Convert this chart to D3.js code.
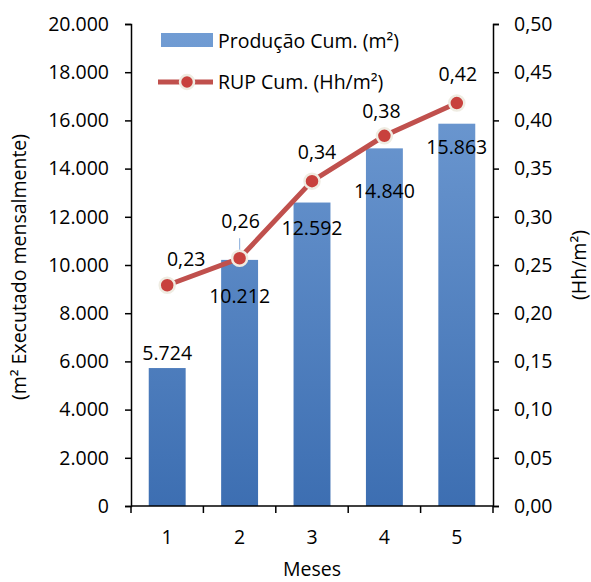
<!DOCTYPE html>
<html>
<head>
<meta charset="utf-8">
<script src="https://cdn.jsdelivr.net/npm/d3@7"></script>
<style>
  body { margin: 0; background: #fff; }
  svg text { font-family: "Open Sans", sans-serif; fill: #000; }
</style>
</head>
<body>
<svg id="chart" width="591" height="582"></svg>
<script>
// chart data
const months = ['1', '2', '3', '4', '5'];
const producao = [5724, 10212, 12592, 14840, 15863];
const rup = [0.229, 0.257, 0.337, 0.384, 0.418];
const leftTicks = [0, 2000, 4000, 6000, 8000, 10000, 12000, 14000, 16000, 18000, 20000];
const rightTicks = [0, 0.05, 0.1, 0.15, 0.2, 0.25, 0.3, 0.35, 0.4, 0.45, 0.5];

// label nudges (px) as placed in the original
const barLabelDy = [-8, 43, 32, 50, 30];
const rupLabelDx = [19, 1, 5, -3, 1];
const rupLabelDy = [-19, -30, -22, -18, -22];

const svg = d3.select('#chart');
const margin = { top: 24, right: 98, bottom: 76, left: 131 };
const width = 591 - margin.left - margin.right;
const height = 582 - margin.top - margin.bottom;
const fs = '19.5px';

const ptBR = v => d3.format(',.0f')(v).replace(/,/g, '.');
const dec2 = v => d3.format('.2f')(v).replace('.', ',');

const defs = svg.append('defs');
const grad = defs.append('linearGradient')
  .attr('id', 'barGrad')
  .attr('gradientUnits', 'userSpaceOnUse')
  .attr('x1', 0).attr('x2', 0)
  .attr('y1', margin.top).attr('y2', margin.top + height);
grad.append('stop').attr('offset', '0%').attr('stop-color', '#729dd4');
grad.append('stop').attr('offset', '100%').attr('stop-color', '#3a6cb0');

const g = svg.append('g').attr('transform', `translate(${margin.left},${margin.top})`);

const x = d3.scaleBand().domain(months).range([0, width]).paddingInner(0.49).paddingOuter(0.245);
const xb = d3.scaleBand().domain(months).range([0, width]); // tick marks sit on band edges
const y = d3.scaleLinear().domain([0, 20000]).range([height, 0]);
const y2 = d3.scaleLinear().domain([0, 0.5]).range([height, 0]);

// bars
g.selectAll('.bar')
  .data(producao)
  .enter()
  .append('rect')
  .attr('class', 'bar')
  .attr('x', (d, i) => x(months[i]))
  .attr('y', d => y(d))
  .attr('width', x.bandwidth())
  .attr('height', d => height - y(d))
  .style('fill', 'url(#barGrad)');

// axes
const axisStyle = sel => {
  sel.select('.domain').attr('stroke', '#000').attr('stroke-width', 1.5);
  sel.selectAll('.tick line').attr('stroke', '#000').attr('stroke-width', 1.5);
  sel.selectAll('.tick text').style('font-size', fs).style('font-family', '"Open Sans", sans-serif');
};

g.append('g')
  .call(d3.axisLeft(y).tickValues(leftTicks).tickFormat(ptBR).tickSize(6).tickSizeOuter(6).tickPadding(16))
  .call(axisStyle);

g.append('g')
  .attr('transform', `translate(${width},0)`)
  .call(d3.axisRight(y2).tickValues(rightTicks).tickFormat(dec2).tickSize(6).tickSizeOuter(6).tickPadding(15))
  .call(axisStyle);

const xAxis = g.append('g')
  .attr('transform', `translate(0,${height})`)
  .call(d3.axisBottom(x).tickSize(0).tickPadding(24))
  .call(axisStyle);
xAxis.select('.domain').attr('d', `M0,0H${width}`);
xAxis.selectAll('.bnd')
  .data(months.concat(['end']))
  .enter()
  .append('line')
  .attr('class', 'bnd')
  .attr('x1', (d, i) => i < months.length ? xb(d) : width)
  .attr('x2', (d, i) => i < months.length ? xb(d) : width)
  .attr('y1', 0).attr('y2', 7)
  .attr('stroke', '#000').attr('stroke-width', 1.5);

// bar labels
g.selectAll('.barLabel')
  .data(producao)
  .enter()
  .append('text')
  .attr('x', (d, i) => x(months[i]) + x.bandwidth() / 2)
  .attr('y', (d, i) => y(d) + barLabelDy[i])
  .attr('text-anchor', 'middle')
  .style('font-size', fs)
  .text(ptBR);

// leader line for 2nd rup label
g.append('line')
  .attr('x1', x(months[1]) + x.bandwidth() / 2)
  .attr('x2', x(months[1]) + x.bandwidth() / 2)
  .attr('y1', y2(rup[1]) - 20)
  .attr('y2', y2(rup[1]) - 2)
  .attr('stroke', '#9ab9e0').attr('stroke-width', 1.2);

// rup line
const cx = i => x(months[i]) + x.bandwidth() / 2;
const line = d3.line().x((d, i) => cx(i)).y(d => y2(d));
g.append('path')
  .datum(rup)
  .attr('d', line)
  .attr('fill', 'none')
  .attr('stroke', '#c0504d')
  .attr('stroke-width', 5);

g.selectAll('.pt')
  .data(rup)
  .enter()
  .append('circle')
  .attr('cx', (d, i) => cx(i))
  .attr('cy', d => y2(d))
  .attr('r', 7.5)
  .attr('fill', '#c8413d')
  .attr('stroke', '#efece2')
  .attr('stroke-width', 2.5);

g.selectAll('.rupLabel')
  .data(rup)
  .enter()
  .append('text')
  .attr('x', (d, i) => cx(i) + rupLabelDx[i])
  .attr('y', (d, i) => y2(d) + rupLabelDy[i])
  .attr('text-anchor', 'middle')
  .style('font-size', fs)
  .text(dec2);

// axis titles
svg.append('text')
  .attr('transform', `translate(26,267) rotate(-90)`)
  .attr('text-anchor', 'middle')
  .style('font-size', fs)
  .text('(m² Executado mensalmente)');

svg.append('text')
  .attr('transform', `translate(586,265) rotate(-90)`)
  .attr('text-anchor', 'middle')
  .style('font-size', fs)
  .text('(Hh/m²)');

svg.append('text')
  .attr('x', 312)
  .attr('y', 576)
  .attr('text-anchor', 'middle')
  .style('font-size', fs)
  .text('Meses');

// legend
const legend = svg.append('g');
legend.append('rect')
  .attr('x', 161).attr('y', 33).attr('width', 52).attr('height', 14)
  .style('fill', 'url(#barGrad)');
legend.append('text').attr('x', 218).attr('y', 48).style('font-size', fs).text('Produção Cum. (m²)');
legend.append('line')
  .attr('x1', 158).attr('x2', 213).attr('y1', 82).attr('y2', 82)
  .attr('stroke', '#c0504d').attr('stroke-width', 5);
legend.append('circle')
  .attr('cx', 187).attr('cy', 82).attr('r', 7)
  .attr('fill', '#c8413d').attr('stroke', '#efece2').attr('stroke-width', 2.5);
legend.append('text').attr('x', 218).attr('y', 89).style('font-size', fs).text('RUP Cum. (Hh/m²)');
</script>
</body>
</html>
